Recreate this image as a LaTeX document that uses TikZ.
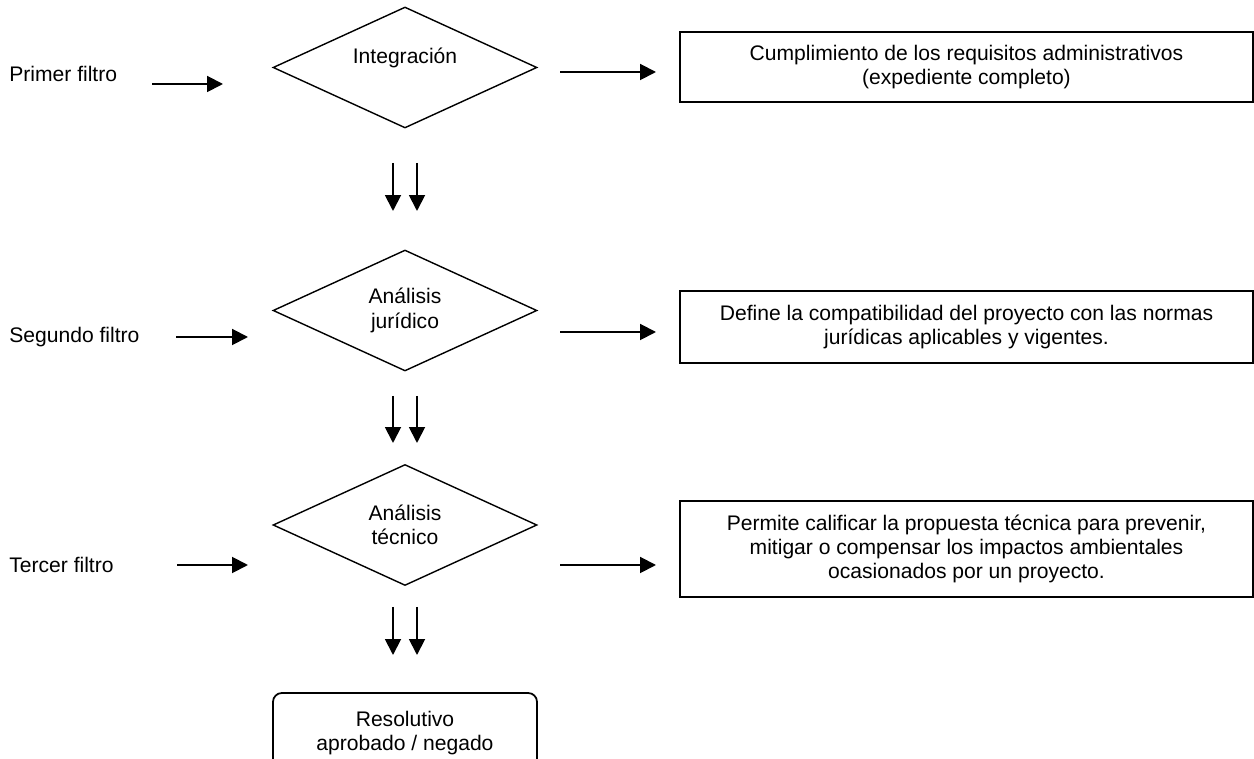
\documentclass[tikz,border=0pt]{standalone}
\usepackage{fontspec}
\setmainfont{Liberation Sans}
\usepackage{tikz}
\usetikzlibrary{
	arrows.meta,
	shapes.geometric
}

\begin{document}
\begin{tikzpicture}[x=0.02cm, y=-0.02cm,
		every node/.style={font=\fontsize{12}{13.8}\selectfont},
		filtro/.style={anchor=west, inner sep=0pt},
		decision/.style={draw, diamond, line width=0.8pt, aspect=2.1, inner sep=0pt,
			minimum width=5.28cm, minimum height=2.42cm, align=center},
		nota/.style={draw, rectangle, line width=1pt, minimum width=11.46cm, align=center},
		arr/.style={line width=1.1pt, -{Triangle[length=9pt, width=9pt]}}
	]
				\def\mid{405}
				\def\nota{966.5}

				\clip (0, 0) rectangle (1254, 759) ;
				\useasboundingbox (0, 0) rectangle (1254, 759) ;

				\node[filtro] (primer) at (9, 74) {Primer filtro} ;
				\node[filtro] (segundo) at (9, 337) {Segundo filtro} ;
				\node[filtro] (tercer) at (9, 565) {Tercer filtro} ;

				\node[decision] (integ) at (\mid, 67.5) {Integración\\\mbox{}} ;
				\node[decision] (jurid) at (\mid, 310.5) {Análisis\\jurídico} ;
				\node[decision] (tecn) at (\mid, 525) {Análisis\\técnico} ;

				\node[nota, minimum height=1.4cm] (req) at (\nota, 67) {Cumplimiento de los requisitos administrativos\\(expediente completo)} ;
				\node[nota, minimum height=1.44cm] (norm) at (\nota, 327) {Define la compatibilidad del proyecto con las normas\\jurídicas aplicables y vigentes.} ;
				\node[nota, minimum height=1.92cm] (prop) at (\nota, 549) {Permite calificar la propuesta técnica para prevenir,\\mitigar o compensar los impactos ambientales\\ocasionados por un proyecto.} ;

				\node[draw, line width=1pt, rounded corners=5pt, minimum width=5.28cm, minimum height=1.6cm, align=center] (resol) at (\mid, 733) {Resolutivo\\aprobado / negado} ;

				\foreach \nm/\xa/\xb/\y in {ent1/152/223/84, ent2/176/248/337, ent3/177/248/565, sal1/560/656/72, sal2/560/656/332, sal3/560/656/565} {
					\coordinate (\nm a) at (\xa, \y) ;
					\coordinate (\nm b) at (\xb, \y) ;
					\draw[arr] (\nm a) -- (\nm b) ;
				}

				\foreach \ya/\yb [count=\i] in {163/211, 396/443, 607/655} {
					\foreach \x in {393, 417} {
						\coordinate (baj\i a\x) at (\x, \ya) ;
						\coordinate (baj\i b\x) at (\x, \yb) ;
						\draw[arr] (baj\i a\x) -- (baj\i b\x) ;
					}
				}
			\end{tikzpicture}
\end{document}
